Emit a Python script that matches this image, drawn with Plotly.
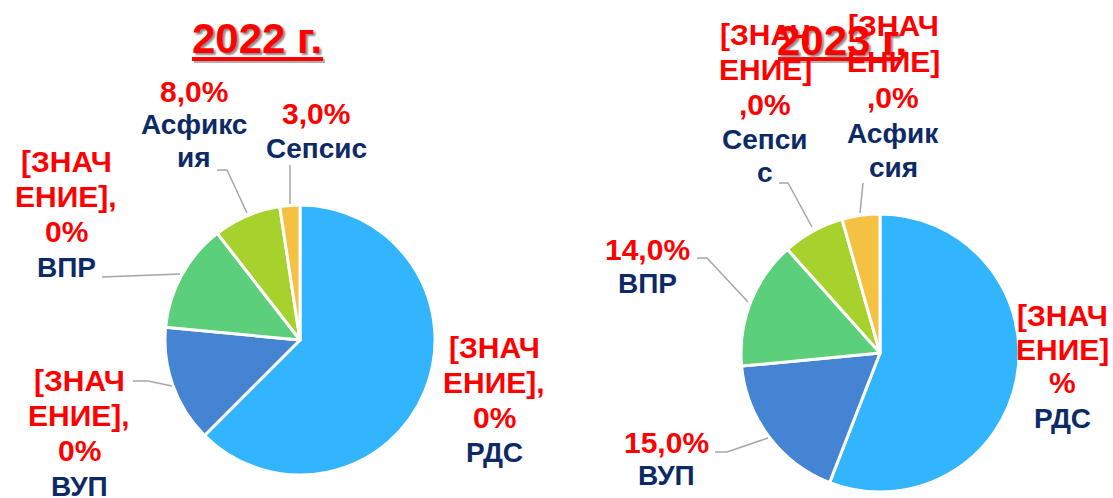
import plotly.graph_objects as go

W, H = 1113, 498

# ---------------- data ----------------
categories_2022 = ["РДС", "ВУП", "ВПР", "Асфиксия", "Сепсис"]
values_2022 = [62.5, 14.0, 13.0, 8.1, 2.4]

categories_2023 = ["РДС", "ВУП", "ВПР", "Сепсис", "Асфиксия"]
values_2023 = [55.9, 17.6, 14.9, 7.2, 4.4]

titles = ["2022 г.", "2023 г."]

# data-label texts as shown (value part in red, category part in navy)
value_text_2022 = {
    "РДС": ["[ЗНАЧ", "ЕНИЕ],", "0%"],
    "ВУП": ["[ЗНАЧ", "ЕНИЕ],", "0%"],
    "ВПР": ["[ЗНАЧ", "ЕНИЕ],", "0%"],
    "Асфиксия": ["8,0%"],
    "Сепсис": ["3,0%"],
}
name_text_2022 = {
    "РДС": ["РДС"],
    "ВУП": ["ВУП"],
    "ВПР": ["ВПР"],
    "Асфиксия": ["Асфикс", "ия"],
    "Сепсис": ["Сепсис"],
}
value_text_2023 = {
    "РДС": ["[ЗНАЧ", "ЕНИЕ]", "%"],
    "ВУП": ["15,0%"],
    "ВПР": ["14,0%"],
    "Сепсис": ["[ЗНАЧ", "ЕНИЕ]", ",0%"],
    "Асфиксия": ["[ЗНАЧ", "ЕНИЕ]", ",0%"],
}
name_text_2023 = {
    "РДС": ["РДС"],
    "ВУП": ["ВУП"],
    "ВПР": ["ВПР"],
    "Сепсис": ["Сепси", "с"],
    "Асфиксия": ["Асфик", "сия"],
}

# ---------------- styling / layout positions ----------------
slice_colors = ["#33B5FE", "#4584D3", "#5BCF79", "#A7D12C", "#F5C143"]
RED = "#FF0000"
NAVY = "#0C2A66"
LINE_GREY = "#A6A6A6"
FONT = "Liberation Sans"

# label placement: centre x (px) and baselines (px) for each text line
label_pos_2022 = {
    "РДС": (494, [358, 393, 428, 462]),
    "ВУП": (79, [391, 426, 461, 496]),
    "ВПР": (66, [172, 207, 242, 277]),
    "Асфиксия": (194, [102, 134, 167]),
    "Сепсис": (316, [124, 158]),
}
label_pos_2023 = {
    "РДС": (1062, [326, 360, 393, 428]),
    "ВУП": (666, [453, 485]),
    "ВПР": (647, [260, 293]),
    "Сепсис": (765, [45, 80, 115, 149, 182]),
    "Асфиксия": (893, [36, 72, 108, 143, 177]),
}
leader_2022 = [
    [(133, 381), (148, 381), (172, 386)],
    [(102, 277), (180, 274)],
    [(217, 170), (227, 170), (247, 213)],
    [(290, 165), (290, 204)],
]
leader_2023 = [
    [(697, 258), (707, 258), (748, 302)],
    [(715, 452), (727, 452), (768, 438)],
    [(779, 183), (788, 183), (812, 227)],
    [(863, 183), (860, 213)],
]
# pie centres / radii in px
pie_geom = [((300, 340), 135), ((880, 353), 139)]
# title centre x, baseline y, underline span
title_pos = [(257, 53, (192, 323), 59), (842, 55, (778, 900), 59)]


def px_x(x):
    return x / W


def px_y(y):
    return 1 - y / H


fig = go.Figure()

for (cats, vals), ((cx, cy), r) in zip(
    [(categories_2022, values_2022), (categories_2023, values_2023)], pie_geom
):
    fig.add_trace(
        go.Pie(
            labels=cats,
            values=vals,
            sort=False,
            direction="clockwise",
            rotation=0,
            marker=dict(colors=slice_colors, line=dict(color="white", width=3)),
            textinfo="none",
            hoverinfo="label+percent",
            showlegend=False,
            domain=dict(
                x=[px_x(cx - r), px_x(cx + r)],
                y=[px_y(cy + r), px_y(cy - r)],
            ),
        )
    )

annotations = []
shapes = []

# titles (with drop shadow and thick underline)
for t, (tx, tb, (ux0, ux1), uy) in zip(titles, title_pos):
    size = 42
    shapes.append(dict(type="line", xref="paper", yref="paper",
                       x0=px_x(ux0 + 2), x1=px_x(ux1 + 2),
                       y0=px_y(uy + 2), y1=px_y(uy + 2),
                       line=dict(color="rgba(120,120,120,0.6)", width=4)))
    shapes.append(dict(type="line", xref="paper", yref="paper",
                       x0=px_x(ux0), x1=px_x(ux1), y0=px_y(uy), y1=px_y(uy),
                       line=dict(color=RED, width=4)))
    annotations.append(
        dict(
            text=t,
            x=px_x(tx),
            y=px_y(tb - 0.3465 * size),
            xref="paper",
            yref="paper",
            xanchor="center",
            yanchor="middle",
            showarrow=False,
            font=dict(
                family=FONT,
                size=size,
                color=RED,
                weight="bold",
                shadow="2px 2px 2px #8a8a8a",
            ),
        )
    )


def add_label(vlines, nlines, pos):
    x, baselines = pos
    lines = [(s, RED, 30) for s in vlines] + [(s, NAVY, 28) for s in nlines]
    for (s, col, size), b in zip(lines, baselines):
        annotations.append(
            dict(
                text=s,
                x=px_x(x),
                y=px_y(b - 0.3465 * size),
                xref="paper",
                yref="paper",
                xanchor="center",
                yanchor="middle",
                showarrow=False,
                font=dict(family=FONT, size=size, color=col, weight="bold"),
            )
        )


for cat in categories_2022:
    add_label(value_text_2022[cat], name_text_2022[cat], label_pos_2022[cat])
for cat in categories_2023:
    add_label(value_text_2023[cat], name_text_2023[cat], label_pos_2023[cat])

for pts in leader_2022 + leader_2023:
    path = "M " + " L ".join(f"{px_x(x):.5f},{px_y(y):.5f}" for x, y in pts)
    shapes.append(
        dict(
            type="path",
            path=path,
            xref="paper",
            yref="paper",
            line=dict(color=LINE_GREY, width=1.5),
        )
    )

fig.update_layout(
    width=W,
    height=H,
    margin=dict(l=0, r=0, t=0, b=0),
    paper_bgcolor="white",
    plot_bgcolor="white",
    annotations=annotations,
    shapes=shapes,
)

fig.write_html(
    "out.html",
    config={"displayModeBar": False},
    post_script="document.body.style.margin='0';document.body.style.overflow='hidden';",
)
